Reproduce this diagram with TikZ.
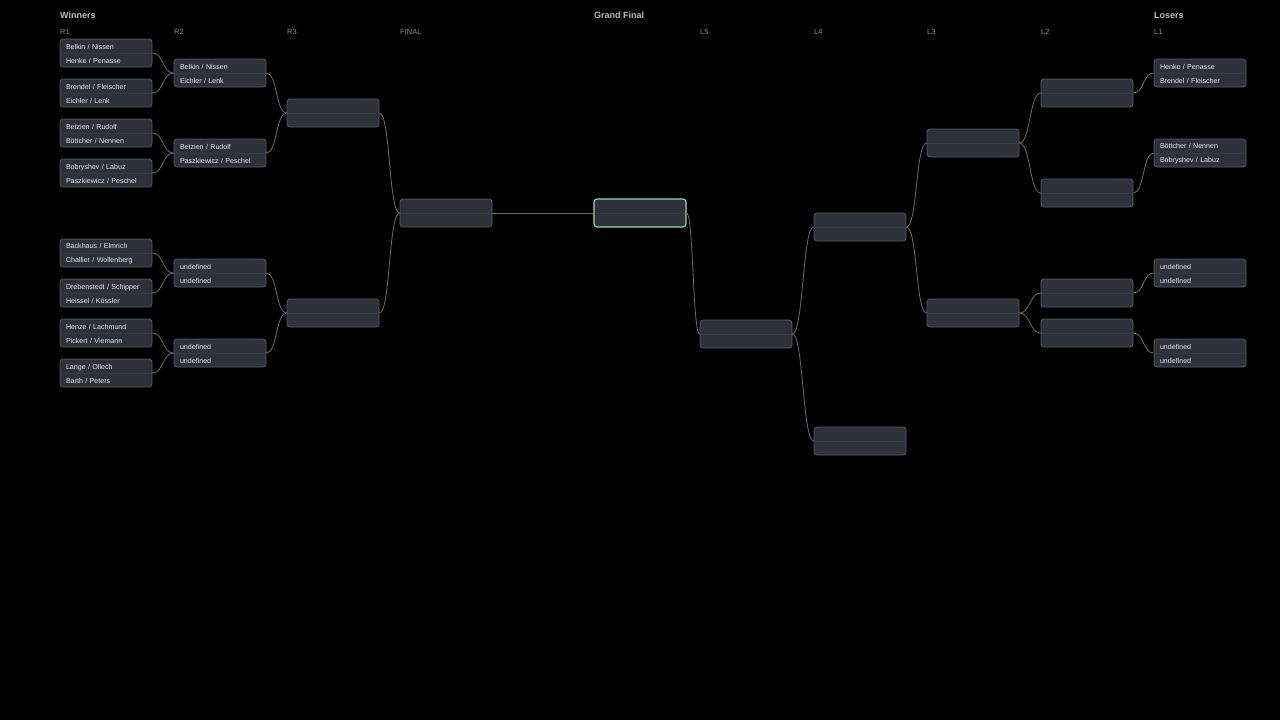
\documentclass[tikz,border=0pt]{standalone}
\usepackage{fontspec}
\setmainfont{Liberation Sans}
\usepackage{xcolor}
\definecolor{canvas}{RGB}{0,0,0}
\definecolor{panel}{RGB}{46,49,57}
\definecolor{edge}{RGB}{88,92,101}
\definecolor{divider}{RGB}{56,59,67}
\definecolor{wire}{RGB}{105,108,115}
\definecolor{ink}{RGB}{230,232,236}
\definecolor{heading}{RGB}{185,188,194}
\definecolor{muted}{RGB}{135,138,145}
\definecolor{live}{RGB}{140,222,165}

\begin{document}
\begin{tikzpicture}[
    x=1pt,
    y=-1pt,
    every node/.style={font=\fontsize{7.1}{14}\selectfont, text=ink},
    match/.style={
        draw=edge,
        fill=panel,
        line width=0.8pt,
        rounded corners=3pt,
        minimum width=92pt,
        minimum height=28pt,
        text width=80pt,
        inner xsep=6pt,
        inner ysep=0pt,
        align=left,
        execute at begin node=\rule{0pt}{7pt},
        path picture={
            \draw[divider, line width=0.7pt]
            (path picture bounding box.west) -- (path picture bounding box.east);
        }
    },
    section/.style={
        anchor=west,
        inner sep=0pt,
        text=heading,
        font=\bfseries\fontsize{9}{11}\selectfont
    },
    roundlabel/.style={
        anchor=west,
        inner sep=0pt,
        text=muted,
        font=\fontsize{7.5}{9}\selectfont
    },
    elbow/.style={
        to path={.. controls +(#1,0) and +(-#1,0) .. (\tikztotarget)}
    },
    elbow/.default=11,
    wire/.style={
        draw=wire,
        line width=0.8pt
    }
]

\useasboundingbox (0,0) rectangle (1280,720);
\fill[canvas] (0,0) rectangle (1280,720);

% headings
\node[section] (winners) at (60,15) {Winners};
\node[section] (grand) at (594,15) {Grand Final};
\node[section] (losers) at (1154,15) {Losers};

\node[roundlabel] (lblr1) at (60,31.5) {R1};
\node[roundlabel] (lblr2) at (174,31.5) {R2};
\node[roundlabel] (lblr3) at (287,31.5) {R3};
\node[roundlabel] (lblfin) at (400,31.5) {FINAL};
\node[roundlabel] (lbll5) at (700,31.5) {L5};
\node[roundlabel] (lbll4) at (814,31.5) {L4};
\node[roundlabel] (lbll3) at (927,31.5) {L3};
\node[roundlabel] (lbll2) at (1041,31.5) {L2};
\node[roundlabel] (lbll1) at (1154,31.5) {L1};

% winners bracket
\node[match] (w1a) at (106,53) {Belkin / Nissen\\Henke / Penasse};
\node[match] (w1b) at (106,93) {Brendel / Fleischer\\Eichler / Lenk};
\node[match] (w1c) at (106,133) {Betzien / Rudolf\\Böttcher / Nennen};
\node[match] (w1d) at (106,173) {Bobryshev / Labuz\\Paszkiewicz / Peschel};
\node[match] (w1e) at (106,253) {Backhaus / Elmrich\\Challier / Wollenberg};
\node[match] (w1f) at (106,293) {Drebenstedt / Schipper\\Heissel / Kössler};
\node[match] (w1g) at (106,333) {Henze / Lachmund\\Pickert / Viemann};
\node[match] (w1h) at (106,373) {Lange / Ollech\\Barth / Peters};

\node[match] (w2a) at (220,73) {Belkin / Nissen\\Eichler / Lenk};
\node[match] (w2b) at (220,153) {Betzien / Rudolf\\Paszkiewicz / Peschel};
\node[match] (w2c) at (220,273) {undefined\\undefined};
\node[match] (w2d) at (220,353) {undefined\\undefined};

\node[match] (w3a) at (333,113) {};
\node[match] (w3b) at (333,313) {};

\node[match] (wfin) at (446,213) {};

% grand final
\node[match, draw=live, line width=1.1pt] (gfin) at (640,213) {};

% losers bracket
\node[match] (l5) at (746,334) {};

\node[match] (l4a) at (860,227) {};
\node[match] (l4b) at (860,441) {};

\node[match] (l3a) at (973,143) {};
\node[match] (l3b) at (973,313) {};

\node[match] (l2a) at (1087,93) {};
\node[match] (l2b) at (1087,193) {};
\node[match] (l2c) at (1087,293) {};
\node[match] (l2d) at (1087,333) {};

\node[match] (l1a) at (1200,73) {Henke / Penasse\\Brendel / Fleischer};
\node[match] (l1b) at (1200,153) {Böttcher / Nennen\\Bobryshev / Labuz};
\node[match] (l1c) at (1200,273) {undefined\\undefined};
\node[match] (l1d) at (1200,353) {undefined\\undefined};

% connectors
\draw[wire] (w1a.east) to[elbow] (w2a.west);
\draw[wire] (w1b.east) to[elbow] (w2a.west);
\draw[wire] (w1c.east) to[elbow] (w2b.west);
\draw[wire] (w1d.east) to[elbow] (w2b.west);
\draw[wire] (w1e.east) to[elbow] (w2c.west);
\draw[wire] (w1f.east) to[elbow] (w2c.west);
\draw[wire] (w1g.east) to[elbow] (w2d.west);
\draw[wire] (w1h.east) to[elbow] (w2d.west);

\draw[wire] (w2a.east) to[elbow] (w3a.west);
\draw[wire] (w2b.east) to[elbow] (w3a.west);
\draw[wire] (w2c.east) to[elbow] (w3b.west);
\draw[wire] (w2d.east) to[elbow] (w3b.west);

\draw[wire] (w3a.east) to[elbow] (wfin.west);
\draw[wire] (w3b.east) to[elbow] (wfin.west);

\draw[wire] (wfin.east) -- (gfin.west);
\draw[wire] (gfin.east) to[elbow=7] (l5.west);

\draw[wire] (l5.east) to[elbow] (l4a.west);
\draw[wire] (l5.east) to[elbow] (l4b.west);

\draw[wire] (l4a.east) to[elbow] (l3a.west);
\draw[wire] (l4a.east) to[elbow] (l3b.west);

\draw[wire] (l3a.east) to[elbow] (l2a.west);
\draw[wire] (l3a.east) to[elbow] (l2b.west);
\draw[wire] (l3b.east) to[elbow] (l2c.west);
\draw[wire] (l3b.east) to[elbow] (l2d.west);

\draw[wire] (l2a.east) to[elbow] (l1a.west);
\draw[wire] (l2b.east) to[elbow] (l1b.west);
\draw[wire] (l2c.east) to[elbow] (l1c.west);
\draw[wire] (l2d.east) to[elbow] (l1d.west);

\end{tikzpicture}
\end{document}
